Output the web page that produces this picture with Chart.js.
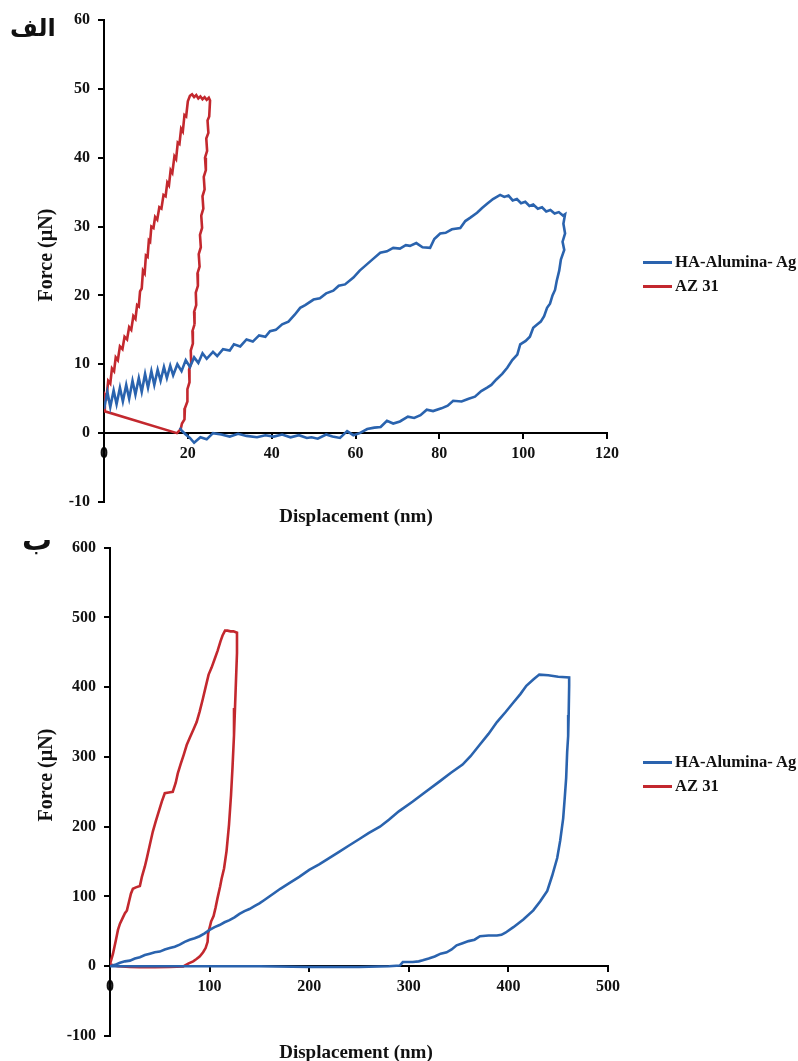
<!DOCTYPE html>
<html>
<head>
<meta charset="utf-8">
<script src="https://cdn.jsdelivr.net/npm/chart.js@4.4.1/dist/chart.umd.min.js"></script>
<style>
  body { margin: 0; background: #fff; width: 798px; height: 1061px; position: relative; overflow: hidden; }
  canvas { position: absolute; left: 0; }
  .lbl { position: absolute; font-family: 'Liberation Serif', 'Times New Roman', serif; font-weight: bold; color: #111; white-space: nowrap; }
  .ytitle { font-size: 20px; transform: translate(-50%, -50%) rotate(-90deg); }
  .xtitle { font-size: 19px; transform: translate(-50%, -50%); }
  .legend { position: absolute; font-family: 'Liberation Serif', 'Times New Roman', serif; font-weight: bold; font-size: 16.6px; color: #111; }
  .legend div { position: relative; height: 24px; line-height: 24px; padding-left: 32px; white-space: nowrap; }
  .legend span { position: absolute; left: 0; top: 11px; width: 29px; height: 3px; }
  .ar { position: absolute; font-family: 'DejaVu Sans', sans-serif; font-weight: bold; color: #111; direction: rtl; }
</style>
</head>
<body>
<canvas id="topChart" width="798" height="530" style="top:0"></canvas>
<canvas id="bottomChart" width="798" height="531" style="top:530px"></canvas>

<div class="ar" style="left:10px; top:14px; font-size:24px;">الف</div>
<div class="ar" style="left:22px; top:522px; font-size:30px;">ب</div>

<div class="lbl ytitle" style="left:45px; top:255px;">Force (µN)</div>
<div class="lbl xtitle" style="left:356px; top:516px;">Displacement (nm)</div>
<div class="lbl ytitle" style="left:45px; top:775px;">Force (µN)</div>
<div class="lbl xtitle" style="left:356px; top:1052px;">Displacement (nm)</div>

<div class="legend" id="topLegend" style="left:643px; top:250px;"></div>
<div class="legend" id="bottomLegend" style="left:643px; top:750px;"></div>

<script>
// Series names and colours
const seriesNames = ['HA-Alumina- Ag', 'AZ 31'];
const seriesColors = ['#2A63AE', '#C3282E'];

// Tick labels
const topXTicks = [0, 20, 40, 60, 80, 100, 120];
const topYTicks = [-10, 0, 10, 20, 30, 40, 50, 60];
const bottomXTicks = [0, 100, 200, 300, 400, 500];
const bottomYTicks = [-100, 0, 100, 200, 300, 400, 500, 600];

// Top chart (الف): HA-Alumina-Ag, displacement (nm) / force (µN)
const topHaX = [0, 0.8, 1.5, 2.3, 3.0, 3.8, 4.5, 5.3, 6.0, 6.8, 7.5, 8.3, 9.0, 9.8, 10.5, 11.3, 12.0, 12.8, 13.5, 14.3,
  15.0, 15.8, 16.5, 17.5, 18.5, 19.5, 20.5, 21.5, 22.5, 23.5, 24.5, 26, 27, 28.4, 30, 31, 32.5, 34, 35.5, 37, 38.5, 39.6,
  41, 42.5, 44, 45.5, 46.8, 48, 50, 51.5, 53, 54.7, 56, 57.5, 59.5, 61, 62.5, 64, 65.9, 67.5, 69, 70.6, 72, 73, 74.5, 76,
  77.8, 78.8, 80.2, 81.5, 83, 85, 86.2, 87.4, 89, 90.2, 91.4, 92.8, 94.5,
  95.5, 96.5, 97.5, 98.5, 99.5, 100.5, 101.5, 102.4, 103.5, 104.5, 105.5, 106.5, 107.5, 108.5, 109.5, 110,
  109.6, 110, 109.4, 109.8, 109.0, 108.6, 108.0, 107.6, 107.0, 106.4, 105.7, 105.0, 104.2, 103.4, 102.4, 101.6, 100.6,
  99.3, 98.6, 97.4, 96.2, 95.0, 93.6, 92.4, 91.4, 90, 88.5, 87, 85.3, 83.3, 82, 80.5, 78.5, 77, 75.5, 74, 72.5, 70.6,
  69, 67.5, 66, 64.5, 62.8, 61, 59.5, 58, 56.3, 54.5, 53, 51, 49.5, 48.4, 46.5, 44.5, 42.5, 40.5, 38.5, 36.5, 34, 32,
  30, 28, 26, 24.5, 23, 21.5, 20.5, 19.5, 18.5, 18.1];
const topHaY = [3.5, 6.0, 3.8, 6.2, 4.2, 6.6, 4.6, 7.0, 5.0, 7.6, 5.6, 8.0, 6.0, 8.6, 6.6, 9.0, 7.0, 9.2, 7.6, 9.6,
  8.0, 9.8, 8.4, 10.0, 9.0, 10.6, 9.6, 11.0, 10.2, 11.6, 10.8, 11.8, 11.2, 12.2, 12.0, 12.9, 12.6, 13.6, 13.3, 14.2, 14.0, 14.8,
  15.0, 15.8, 16.2, 17.2, 18.2, 18.6, 19.4, 19.6, 20.3, 20.7, 21.4, 21.6, 22.6, 23.6, 24.4, 25.2, 26.2, 26.4, 26.9, 26.8, 27.3, 27.2, 27.6, 27.0,
  26.9, 28.2, 29.0, 29.1, 29.6, 29.8, 30.8, 31.3, 32.0, 32.7, 33.3, 34.0, 34.6,
  34.3, 34.5, 33.8, 34.0, 33.4, 33.6, 33.0, 33.2, 32.6, 32.8, 32.2, 32.4, 31.9, 32.1, 31.6, 31.8,
  30.4, 29.0, 27.8, 26.6, 25.2, 23.6, 22.1, 20.8, 20.0, 18.8, 18.2, 17.0, 16.2, 15.8, 15.3, 14.0, 13.4,
  12.9, 11.4, 10.6, 9.5, 8.6, 7.8, 7.0, 6.6, 6.1, 5.3, 5.0, 4.6, 4.7, 4.0, 3.6, 3.2, 3.4, 2.6, 2.2, 2.4, 1.7,
  1.4, 1.8, 0.9, 0.8, 0.6, 0.0, -0.3, 0.3, -0.7, -0.5, -0.2, -0.8, -0.6, -0.7, -0.3, -0.6, -0.2, -0.5, -0.3, -0.6, -0.4, -0.1,
  -0.5, -0.2, 0.0, -0.9, -0.6, -1.4, -0.7, -0.2, 0.4, 0.8];

// Top chart: AZ 31
const topAzX = [0, 0.2, 0.6, 1.0, 1.5, 1.9, 2.4, 2.8, 3.3, 3.8, 4.4, 4.9, 5.5, 6.0, 6.5, 7.0, 7.5, 7.9, 8.3, 8.6,
  9.0, 9.3, 9.7, 10.0, 10.4, 10.7, 11.0, 11.3, 11.8, 12.2, 12.7, 13.2, 13.7, 14.2, 14.7, 15.1, 15.5, 15.9, 16.3, 16.8,
  17.2, 17.6, 18.0, 18.4, 18.8, 19.2, 19.6, 20.0, 20.5,
  21.0, 21.5, 22.0, 22.5, 23.0, 23.5, 24.0, 24.5, 25.0, 25.3,
  25.1, 24.7, 24.9, 24.4, 24.6, 24.1, 24.3, 23.8, 24.0, 23.5, 23.7, 23.2, 23.4, 22.9, 23.1, 22.6, 22.8, 22.3, 22.4, 21.9,
  22.0, 21.5, 21.6, 21.1, 21.2, 20.7, 20.8, 20.3, 20.4, 19.9, 19.9, 19.3, 19.2, 18.6, 18.3, 17.4, 0];
const topAzY = [3.2, 5.6, 5.2, 7.6, 7.2, 9.4, 9.0, 11.0, 10.6, 12.6, 12.2, 14.0, 13.6, 15.4, 15.0, 17.0, 16.6, 18.6, 18.4, 20.6,
  21.0, 23.6, 23.2, 25.8, 25.6, 28.0, 27.8, 30.0, 29.8, 31.4, 31.0, 32.8, 32.6, 34.6, 34.4, 36.4, 36.0, 38.2, 37.8, 40.2,
  39.8, 42.2, 42.0, 44.2, 43.8, 46.2, 46.0, 48.2, 49.0,
  49.2, 48.8, 49.1, 48.6, 48.9, 48.5, 48.8, 48.4, 48.7, 48.3,
  46.0, 45.4, 43.6, 42.8, 41.0, 40.0, 38.2, 37.2, 35.4, 34.4, 32.6, 31.6, 29.8, 28.8, 27.0, 26.0, 24.2, 23.2, 21.4, 20.4,
  18.6, 17.6, 15.8, 14.8, 13.0, 12.0, 10.2, 9.2, 7.4, 6.4, 4.6, 3.6, 2.0, 1.4, 0.6, 0.0, 3.2];

// Bottom chart (ب): HA-Alumina-Ag
const bottomHaX = [0, 5, 10, 15, 20, 25, 30, 35, 40, 45, 50, 55, 60, 65, 70, 75, 80, 85, 90, 95, 100, 105, 110, 115, 120,
  125, 130, 135, 140, 145, 150, 155, 160, 165, 171, 180, 190, 200, 210, 220, 230, 240, 250, 260, 271, 280, 290, 304, 315,
  331, 342, 354, 362, 371, 380, 388.5, 397, 405, 412, 418, 425, 431,
  440, 450, 461,
  461, 460.5, 460, 459, 458, 456.5, 455, 452, 449, 444, 439, 432, 425, 415, 405, 397, 393, 388.5, 380, 371.5, 366, 360,
  354, 348, 343, 338, 332, 326, 320, 314, 310, 304, 294, 291, 280, 250, 200, 150, 100, 50, 20, 0];
const bottomHaY = [0, 2, 5, 7, 8, 11, 13, 16, 18, 20, 21, 24, 26, 28, 31, 35, 38, 40, 43, 47, 52, 56, 59, 63, 66,
  70, 75, 79, 82, 86, 90, 95, 100, 105, 111, 119, 128, 138, 146, 155, 164, 173, 182, 191, 200, 210, 222, 236, 248,
  265, 277, 289, 301, 317, 333, 350, 364, 378, 390, 402, 411, 418,
  417, 415, 414,
  402, 360, 330, 307, 270, 240, 212, 180, 155, 130, 108, 93, 80, 67, 56, 48, 45, 44, 44, 43, 38, 36,
  33, 30, 24, 20, 18, 14, 11, 8.5, 7, 6, 6, 1, 0, -1, -1, 0, 0, 0, 0, 0];

// Bottom chart: AZ 31
const bottomAzX = [0, 3, 6, 8, 10, 13, 15, 17, 19, 21, 23, 26, 30, 32, 35, 37, 40, 43, 46, 49, 52, 55, 59, 63, 66, 68,
  71, 74, 77, 80, 84, 87, 90, 93, 96, 99, 102, 105, 108, 111, 113, 115.5,
  118, 121, 124, 127.5,
  127.5, 126.5, 125.5, 124.5, 123, 121.5, 119.5, 117, 114.5, 112, 110.5, 108, 106, 104, 101.5, 100.5, 98.5, 98, 96,
  93.5, 90, 86.5, 83.5, 79, 75, 73.5, 60, 45, 30, 20, 12, 8, 4, 0];
const bottomAzY = [3, 18, 38, 52, 61, 70, 76, 80, 92, 104, 111, 113, 115, 128, 143, 155, 174, 193, 208, 222, 236, 248, 249, 250, 263, 276,
  290, 303, 317, 327, 340, 350, 365, 382, 400, 418, 428, 440, 452, 466, 474, 481,
  481, 480, 480, 478,
  449, 410, 370, 331, 285, 245, 203, 165, 140, 125, 114, 98, 84, 72, 64, 58, 47, 35, 26,
  20, 14, 10, 7, 4, 1, -0.5, -1, -1.5, -1.5, -1, -0.5, 0, 1, 3];

const serif = "'Liberation Serif', 'Times New Roman', serif";

function toPoints(xs, ys) {
    return xs.map((x, i) => ({ x: x, y: ys[i] }));
}

// Function to build one force-displacement chart
function createChart(canvasId, series, xTicks, yTicks, padding) {
    const ctx = document.getElementById(canvasId).getContext('2d');

    new Chart(ctx, {
        type: 'scatter',
        data: {
            datasets: series.map((s, i) => ({
                label: seriesNames[i],
                data: toPoints(s[0], s[1]),
                showLine: true,
                borderColor: seriesColors[i],
                backgroundColor: seriesColors[i],
                borderWidth: 2.6,
                pointRadius: 0,
                tension: 0
            }))
        },
        options: {
            responsive: false,
            animation: false,
            layout: { padding: padding },
            plugins: {
                legend: { display: false },
                tooltip: { enabled: false }
            },
            scales: {
                x: {
                    type: 'linear',
                    position: { y: 0 },
                    min: xTicks[0],
                    max: xTicks[xTicks.length - 1],
                    afterBuildTicks: axis => { axis.ticks = xTicks.map(v => ({ value: v })); },
                    border: { color: '#000', width: 2 },
                    grid: { drawOnChartArea: false, color: '#000', lineWidth: 2, tickLength: 5 },
                    ticks: { color: '#111', padding: 6, maxRotation: 0, font: { family: serif, size: 16, weight: 'bold' } }
                },
                y: {
                    type: 'linear',
                    position: 'left',
                    min: yTicks[0],
                    max: yTicks[yTicks.length - 1],
                    afterBuildTicks: axis => { axis.ticks = yTicks.map(v => ({ value: v })); },
                    afterFit: axis => { axis.width = padding.axisWidth; },
                    border: { color: '#000', width: 2 },
                    grid: { drawOnChartArea: false, color: '#000', lineWidth: 2, tickLength: 6 },
                    ticks: { color: '#111', padding: 8, font: { family: serif, size: 16, weight: 'bold' } }
                }
            }
        }
    });
}

// Simple HTML legend
function buildLegend(id) {
    const box = document.getElementById(id);
    seriesNames.forEach((name, i) => {
        box.innerHTML += `<div><span style="background:${seriesColors[i]}"></span>${name}</div>`;
    });
}

createChart('topChart', [[topHaX, topHaY], [topAzX, topAzY]], topXTicks, topYTicks,
    { left: 0, top: 20, right: 191, bottom: 28, axisWidth: 104 });
createChart('bottomChart', [[bottomHaX, bottomHaY], [bottomAzX, bottomAzY]], bottomXTicks, bottomYTicks,
    { left: 0, top: 14, right: 190, bottom: 25, axisWidth: 110 });

buildLegend('topLegend');
buildLegend('bottomLegend');
</script>
</body>
</html>
